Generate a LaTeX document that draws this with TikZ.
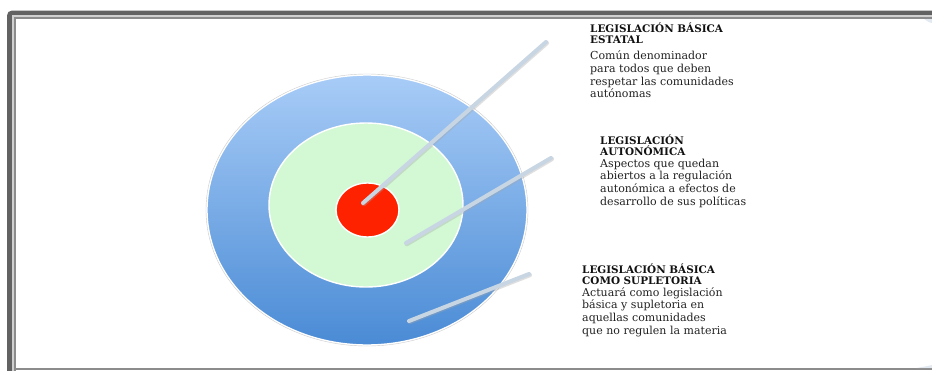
\documentclass[tikz,border=0pt]{standalone}
\usepackage{fontspec}
\setmainfont{DejaVu Serif}
\usetikzlibrary{shapes.geometric}
\definecolor{frameDark}{HTML}{626262}
\definecolor{frameLight}{HTML}{D0D0D0}
\definecolor{frameMid}{HTML}{8C8C8C}
\definecolor{ringTop}{HTML}{A8CCF7}
\definecolor{ringBot}{HTML}{4A8BD5}
\definecolor{ringGreen}{HTML}{D2F8D4}
\definecolor{coreRed}{HTML}{FF2200}
\definecolor{pointer}{HTML}{C8D5E3}
\definecolor{headText}{HTML}{111111}
\definecolor{bodyText}{HTML}{222222}
\begin{document}
\begin{tikzpicture}[x=1pt,y=-1pt,
  ring/.style={ellipse,inner sep=0pt,draw=white,line width=1.4pt},
  pointerline/.style={draw=pointer,line width=4pt,line cap=round},
  pointershadow/.style={draw=black!35,opacity=0.35,line width=4.5pt,line cap=round},
  label/.style={anchor=north west,inner sep=0pt,align=left,text=bodyText,
    font=\fontsize{11}{12.7}\selectfont}]
\newcommand{\headline}[1]{{\fontsize{10.4}{11}\selectfont\bfseries\color{headText}#1}}
\useasboundingbox (0,0) rectangle (932,370);
\fill[white] (0,0) rectangle (932,370);

% framed page border, running off the right edge
\draw[frameDark,line width=5pt,rounded corners=3pt] (9.5,13) rectangle (950,380);
\draw[frameLight,line width=2pt] (13,400) -- (13,16) -- (950,16);
\draw[frameMid,line width=2pt] (15,400) -- (15,18) -- (950,18);
\draw[frameMid,line width=2pt] (15,369) -- (950,369);
% page curl shadows
\fill[pointer,opacity=0.5] (924,19) .. controls (927,21) and (930,23) .. (932,23) -- (932,19) -- cycle;
\fill[pointer,opacity=0.5] (916,368) .. controls (922,367) and (928,366) .. (932,365) -- (932,368) -- cycle;

% target rings
\node[ring,minimum width=320pt,minimum height=270pt,top color=ringTop,bottom color=ringBot] (outer) at (367,210) {};
\draw[black!20,line width=0.4pt] (367,210) ellipse [x radius=161, y radius=136];
\node[ring,minimum width=194pt,minimum height=164pt,fill=ringGreen] (middle) at (366,205) {};
\node[ring,minimum width=63pt,minimum height=54pt,fill=coreRed] (core) at (367.5,210) {};

% pointer ends
\coordinate (s1) at (363,203);
\coordinate (e1) at (546,42);
\coordinate (s2) at (406,243);
\coordinate (e2) at (551,158);
\coordinate (s3) at (409,321);
\coordinate (e3) at (529,274);
\foreach \a/\b in {s1/e1,s2/e2,s3/e3}{
  \draw[pointershadow] ([shift={(0.8,1)}]\a) -- ([shift={(0.8,1)}]\b);
  \draw[pointerline] (\a) -- (\b);
}

% descriptions
\node[label] (t1) at (590,22.5) {\headline{LEGISLACIÓN BÁSICA}\\[-2pt]
  \headline{ESTATAL}\\[4pt]
  Común denominador\\ para todos que deben\\ respetar las comunidades\\ autónomas};
\node[label] (t2) at (600,135) {\headline{LEGISLACIÓN}\\[-2pt]
  \headline{AUTONÓMICA}\\[-1pt]
  Aspectos que quedan\\ abiertos a la regulación\\ autonómica a efectos de\\ desarrollo de sus políticas};
\node[label] (t3) at (582,263.5) {\headline{LEGISLACIÓN BÁSICA}\\[-1.5pt]
  \headline{COMO SUPLETORIA}\\[-1pt]
  Actuará como legislación\\ básica y supletoria en\\ aquellas comunidades\\ que no regulen la materia};
\end{tikzpicture}
\end{document}
